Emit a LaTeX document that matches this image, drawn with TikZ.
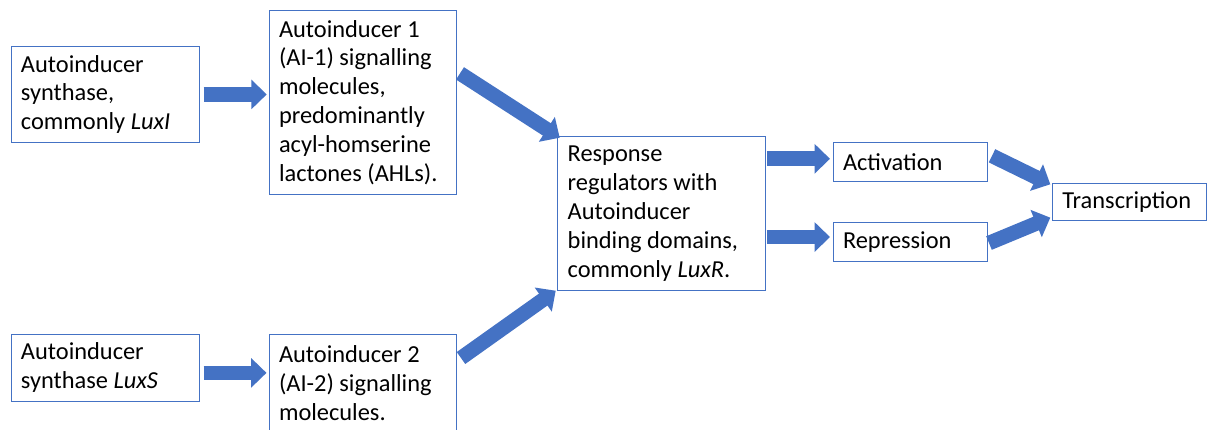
\documentclass[tikz,border=0pt]{standalone}
\usepackage{fontspec}
\setmainfont{Carlito}
\usetikzlibrary{arrows.meta}
\definecolor{officeblue}{HTML}{4472C4}

\begin{document}
\begin{tikzpicture}[x=0.75pt, y=-0.75pt,
  box/.style={draw=officeblue, line width=0.75pt, anchor=north west, align=flush left,
    inner xsep=7.5pt, inner ysep=0pt, outer sep=0pt,
    font=\fontsize{18.3}{21.6}\selectfont},
  fat/.style={draw=officeblue, line width=11pt,
    -{Triangle[length=11.5pt, width=21.5pt]}}]
  \useasboundingbox (0,0) rectangle (1209,429);
  % Boxes
  \node[box, text width=126pt, minimum height=71.6pt] (synI) at (11,46.7)
    {Autoinducer\\ synthase,\\ commonly \textit{LuxI}};
  \node[box, text width=125.25pt, minimum height=137.5pt] (aione) at (269,10.7)
    {Autoinducer 1\\ (AI-1) signalling\\ molecules,\\ predominantly\\ acyl-homserine\\ lactones (AHLs).};
  \node[box, text width=126pt, minimum height=50.8pt] (synS) at (11,334)
    {Autoinducer\\ synthase \textit{LuxS}};
  \node[box, text width=125.25pt, minimum height=73.5pt] (aitwo) at (269,334)
    {Autoinducer 2\\ (AI-2) signalling\\ molecules.};
  \node[box, text width=140.7pt, minimum height=115.5pt] (resp) at (557.7,136.7)
    {Response\\ regulators with\\ Autoinducer\\ binding domains,\\ commonly \textit{LuxR}.};
  \node[box, text width=100.5pt, minimum height=29.25pt] (act) at (833,142.3) {Activation};
  \node[box, text width=100.5pt, minimum height=29pt] (rep) at (833,222.7) {Repression};
  \node[box, text width=100.5pt, minimum height=28pt] (trans) at (1052.3,183.3) {Transcription};
  % Arrows
  \draw[fat] ([xshift=3.5pt]synI.east) -- ([xshift=-1.7pt]synI.east -| aione.west);
  \draw[fat] ([shift={(4.5,5)}]synS.east) -- ([shift={(-2.5,5)}]synS.east -| aitwo.west);
  \draw[fat] ([shift={(4,-29)}]aione.east) -- ([shift={(2,1)}]resp.north west);
  \draw[fat] ([shift={(5,24)}]aitwo.north east) -- ([shift={(-2,0)}]resp.south west);
  \draw[fat] ([shift={(1.5,-3)}]resp.east |- act.west) -- ([shift={(-3,-3)}]act.west);
  \draw[fat] ([shift={(1.5,-5)}]resp.east |- rep.west) -- ([shift={(-3,-5)}]rep.west);
  \draw[fat] ([shift={(5,-6)}]act.east) -- ([shift={(-2,1)}]trans.north west);
  \draw[fat] ([shift={(2,1)}]rep.east) -- ([shift={(-2,-3)}]trans.south west);
\end{tikzpicture}
\end{document}
